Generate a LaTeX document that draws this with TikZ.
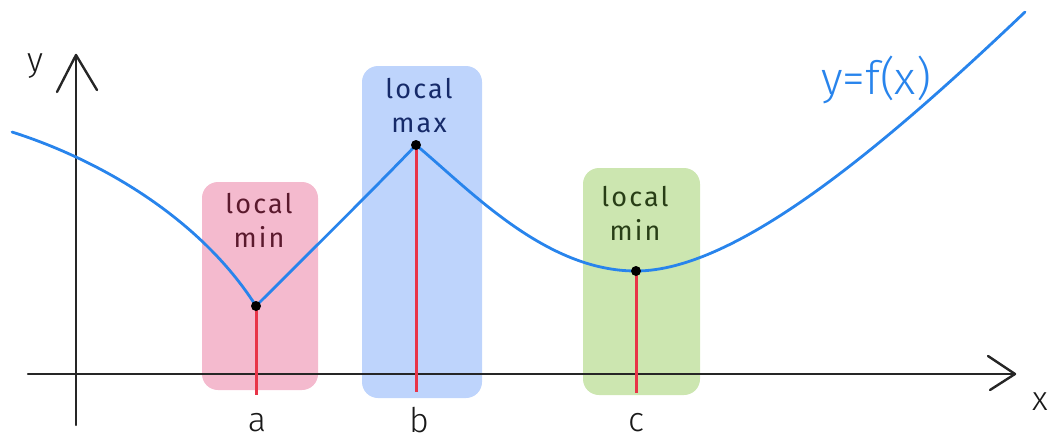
\documentclass[tikz,border=0pt]{standalone}
\usepackage{fontspec}
\setmainfont{Fira Sans}
\newfontfamily\lblfont{Fira Sans}[LetterSpace=8]
\newfontfamily\axfont{Fira Sans Light}
\begin{document}
\begin{tikzpicture}[x=1pt,y=-1pt,
  curvecol/.style={draw={rgb,255:red,40;green,132;blue,236}, line width=2.8pt, line cap=round, line join=round},
  axisline/.style={draw=black!85, line width=2.4pt, line cap=round, line join=round},
  dropline/.style={draw={rgb,255:red,232;green,52;blue,72}, line width=3pt},
  band/.style={rounded corners=16pt, draw=none},
  dotpt/.style={circle, fill=black, inner sep=0pt, minimum size=10pt},
  bandlbl/.style={font=\lblfont\fontsize{27}{40}\selectfont, align=center},
  axlbl/.style={font=\axfont\fontsize{34}{34}\selectfont, text=black!90}
]
\useasboundingbox (0,0) rectangle (1055,440);
% bands
\fill[band, fill={rgb,255:red,244;green,186;blue,206}] (202,182) rectangle (318,390);
\fill[band, fill={rgb,255:red,190;green,212;blue,252}] (362,66) rectangle (482,398);
\fill[band, fill={rgb,255:red,204;green,230;blue,176}] (583,168) rectangle (700,395);
% axes
\coordinate (ybot) at (76,425);
\coordinate (ytip) at (76,55);
\coordinate (yl) at (57,92);
\coordinate (yr) at (97,90);
\coordinate (xleft) at (28,374);
\coordinate (xtip) at (1015,374);
\coordinate (xu) at (988,356);
\coordinate (xd) at (990,390);
\draw[axisline] (ybot) -- (ytip);
\draw[axisline] (yl) -- (ytip) -- (yr);
\draw[axisline] (xleft) -- (xtip);
\draw[axisline] (xu) -- (xtip) -- (xd);
\node[axlbl] (ylab) at (35,66) {y};
\node[axlbl] (xlab) at (1040,402) {x};
% feet
\coordinate (af) at (256,395);
\coordinate (bf) at (416,392);
\coordinate (cf) at (636,393);
% points
\coordinate (start) at (12,132);
\coordinate (pa) at (256,306);
\coordinate (pb) at (416,145);
\coordinate (pc) at (636,271);
\coordinate (stop) at (1025,12);
\draw[dropline] (pa) -- (af);
\draw[dropline] (pb) -- (bf);
\draw[dropline] (pc) -- (cf);
% curve
\draw[curvecol] (start) .. controls (100,160) and (200,218) .. (pa)
  .. controls (300,262) and (375,188) .. (pb)
  .. controls (470,190) and (545,271) .. (pc)
  .. controls (735,271) and (880,150) .. (stop);
\node[dotpt] (da) at (pa) {};
\node[dotpt] (db) at (pb) {};
\node[dotpt] (dc) at (pc) {};
% band labels
\node[bandlbl, text={rgb,255:red,90;green,25;blue,45}] (la) at (259,220) {local\\[-6pt]min};
\node[bandlbl, text={rgb,255:red,22;green,42;blue,105}] (lb) at (419,106) {local\\[-6pt]max};
\node[bandlbl, text={rgb,255:red,40;green,62;blue,22}] (lc) at (635,213) {local\\[-6pt]min};
% axis labels a b c
\node[axlbl] (na) at (257,423) {a};
\node[axlbl] (nb) at (419,420) {b};
\node[axlbl] (nc) at (636,423) {c};
% function label
\node[font=\axfont\fontsize{46}{46}\selectfont, text={rgb,255:red,40;green,132;blue,236}, inner sep=0pt] (fl) at (876,80) {y=f(x)};
\end{tikzpicture}
\end{document}
